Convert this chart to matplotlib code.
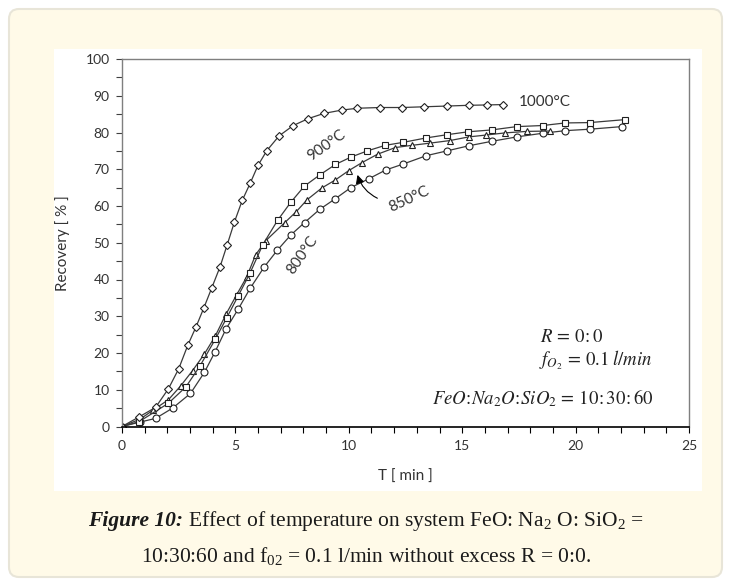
import matplotlib
matplotlib.use('Agg')
import matplotlib.pyplot as plt
from matplotlib.patches import FancyBboxPatch, Rectangle

# data (T in min, recovery in %)
t_1000 = [0, 0.75, 1.48, 2.05, 2.5, 2.9, 3.27, 3.61, 3.95, 4.32, 4.63, 4.96, 5.3, 5.66, 6.0,
          6.39, 6.93, 7.55, 8.22, 8.91, 9.69, 10.38, 11.37, 12.35, 13.33, 14.33, 15.3, 16.08, 16.8]
r_1000 = [0, 2.6, 5.2, 10.3, 15.7, 22.1, 27.2, 32.3, 37.6, 43.4, 49.3, 55.7, 61.5, 66.3, 71.1,
          75.1, 79.1, 81.9, 83.8, 85.2, 86.1, 86.6, 86.8, 86.8, 87.0, 87.2, 87.4, 87.5, 87.6]

t_900 = [0, 0.75, 2.04, 2.82, 3.44, 4.11, 4.61, 5.12, 5.64, 6.21, 6.86, 7.44, 8.04, 8.73,
         9.41, 10.09, 10.82, 11.6, 12.38, 13.39, 14.33, 15.27, 16.3, 17.4, 18.55, 19.54, 20.63, 22.17]
r_900 = [0, 1.3, 6.3, 10.8, 16.5, 23.7, 29.5, 35.5, 41.7, 49.5, 56.1, 61.0, 65.4, 68.5,
         71.3, 73.3, 75.0, 76.5, 77.3, 78.5, 79.4, 80.2, 80.7, 81.6, 81.9, 82.6, 82.7, 83.5]

t_850 = [0, 0.8, 1.38, 2.05, 2.58, 3.11, 3.63, 4.11, 4.59, 5.05, 5.49, 5.89, 6.33, 7.18,
         7.69, 8.16, 8.81, 9.41, 9.99, 10.58, 11.27, 12.05, 12.77, 13.57, 14.45, 15.29, 16.04,
         16.9, 17.85, 18.85]
r_850 = [0, 2.0, 4.5, 7.3, 11.0, 15.2, 19.7, 24.6, 30.6, 35.8, 40.6, 46.7, 50.5, 55.5,
         58.5, 61.7, 64.9, 67.1, 69.6, 71.8, 74.1, 75.9, 76.5, 77.1, 77.8, 78.8, 79.3,
         79.9, 80.3, 80.4]

t_800 = [0, 0.79, 1.48, 2.23, 3.02, 3.63, 4.11, 4.59, 5.13, 5.65, 6.27, 6.84, 7.44, 8.05,
         8.72, 9.41, 10.09, 10.88, 11.63, 12.39, 13.42, 14.33, 15.3, 16.3, 17.4, 18.55, 19.54,
         20.63, 22.03]
r_800 = [0, 1.2, 2.2, 5.0, 9.0, 14.7, 20.4, 26.6, 32.0, 37.6, 43.4, 47.9, 52.1, 55.5,
         59.1, 62.0, 65.0, 67.4, 69.8, 71.4, 73.7, 75.0, 76.4, 77.6, 78.8, 79.8, 80.5,
         80.9, 81.6]

plt.rcParams['font.family'] = ['Lato', 'DejaVu Sans']
plt.rcParams['mathtext.fontset'] = 'custom'
plt.rcParams['mathtext.rm'] = 'Liberation Serif'
plt.rcParams['mathtext.it'] = 'Liberation Serif:italic'

W, H = 731, 584
fig = plt.figure(figsize=(W / 100, H / 100), dpi=100, facecolor='white')

# beige card and white chart panel (pixel coords, origin bottom-left)
card = FancyBboxPatch((9, 7), 713, 568, boxstyle='round,pad=0,rounding_size=10',
                      transform=None, facecolor='#fffae8', edgecolor='#e8e5d8',
                      lw=1.5, zorder=-2)
panel = Rectangle((54, H - 491), 648, 442, transform=None,
                  facecolor='white', edgecolor='none', zorder=-1)
fig.patches.extend([card, panel])

ax = fig.add_axes([122 / W, 1 - 426.5 / H, 567 / W, 367.5 / H])
ax.set_facecolor('white')
ax.set_zorder(1)

line_kw = dict(color='#3a3a3a', lw=0.9, mfc='white', mec='#202020', mew=0.8)
ax.plot(t_800, r_800, marker='o', ms=5, **line_kw)
ax.plot(t_850, r_850, marker='^', ms=5, **line_kw)
ax.plot(t_900, r_900, marker='s', ms=5, **line_kw)
ax.plot(t_1000, r_1000, marker='D', ms=4.5, **line_kw)

ax.set_xlim(0, 25)
ax.set_ylim(0, 100)
ax.set_xticks(range(0, 26, 5))
ax.set_xticks(range(0, 26), minor=True)
ax.set_yticks(range(0, 101, 10))
ax.set_yticks(range(0, 101, 5), minor=True)
ax.tick_params(which='both', direction='out', length=4, width=0.8, colors='#404040',
               labelsize=10, labelcolor='#333333', pad=5)
ax.tick_params(axis='x', which='both', direction='out', length=4, colors='black',
               labelcolor='#333333', pad=6)
for s in ['top', 'right', 'left']:
    ax.spines[s].set_color('#7f7f7f')
    ax.spines[s].set_linewidth(1.0)
ax.spines['bottom'].set_color('black')
ax.spines['bottom'].set_linewidth(1.2)

ax.set_ylabel('Recovery [ % ]', fontsize=11, color='#333333')
ax.set_xlabel('T [ min ]', fontsize=11, color='#333333')
ax.yaxis.set_label_coords(-0.092, 0.5)
ax.xaxis.set_label_coords(0.5, -0.118)

lab_kw = dict(fontsize=11, color='#333333', ha='center', va='center')
ax.text(17.5, 88.2, '1000°C', fontsize=11, color='#333333', ha='left', va='center')
ax.text(9.0, 76.5, '900°C', rotation=35, **lab_kw)
ax.text(12.66, 61.7, '850°C', rotation=25, **lab_kw)
ax.text(7.96, 46.7, '800°C', rotation=55, **lab_kw)
ax.annotate('', xy=(10.35, 69.2), xytext=(11.37, 61.8),
            arrowprops=dict(arrowstyle='-|>,head_length=0.5,head_width=0.25',
                            connectionstyle='arc3,rad=-0.25', color='black', lw=0.8))

ann_kw = dict(fontsize=13.5, color='#222222', ha='right', va='center', math_fontfamily='stix')
ax.text(21.2, 24.6, r'$R\,=\,0\!:0$', **ann_kw)
ax.text(23.4, 18.1, r'$f_{O_2}\,=\,0.1\;l/min$', **ann_kw)
ax.text(23.45, 7.8, r'$FeO\!:\!Na_2O\!:\!SiO_2\,=\,10\!:30\!:60$', **ann_kw)

# caption with bold italic lead
cap_font = 'Liberation Serif'
cap_size = 15.5


def caption_line(y_px, lead, rest):
    fig.canvas.draw()
    r = fig.canvas.get_renderer()
    t1 = None
    w1 = 0
    if lead:
        t1 = fig.text(0, 0, lead, fontsize=cap_size, family=cap_font, weight='bold',
                      style='italic', transform=None, va='center', color='#1a1a1a')
        w1 = t1.get_window_extent(r).width
    t2 = fig.text(0, 0, rest, fontsize=cap_size, family=cap_font,
                  transform=None, va='center', color='#1a1a1a', math_fontfamily='custom')
    w2 = t2.get_window_extent(r).width
    x0 = 366 - (w1 + w2) / 2
    if t1 is not None:
        t1.set_position((x0, H - y_px))
    t2.set_position((x0 + w1, H - y_px))


caption_line(521, 'Figure 10:', r' Effect of temperature on system FeO: Na$_{2}$ O: SiO$_{2}$ =')
caption_line(556, '', r'10:30:60 and f$_{02}$ = 0.1 l/min without excess R = 0:0.')

fig.savefig('out.png', dpi=100, facecolor='white')
